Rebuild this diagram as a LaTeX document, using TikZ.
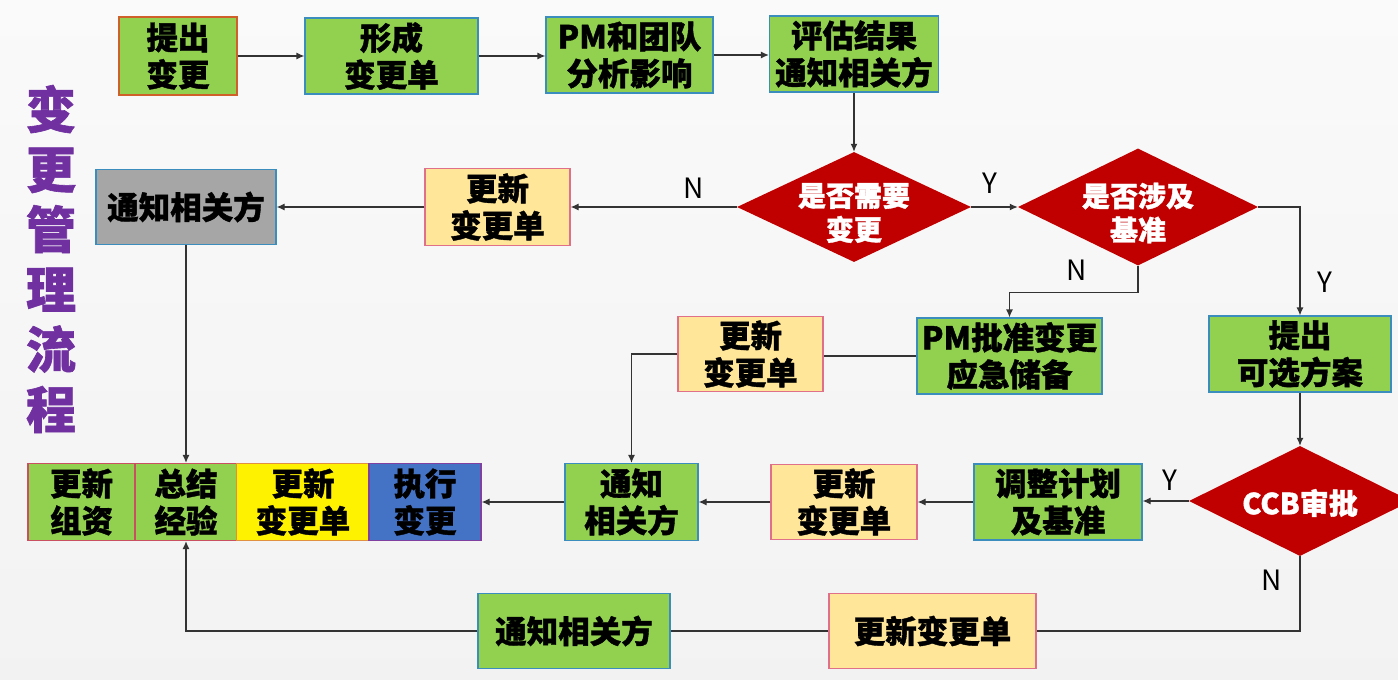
\documentclass[tikz,border=0pt]{standalone}
\usepackage{fontspec}
\setmainfont{Noto Sans CJK SC}[BoldFeatures={FakeBold=1.2}]
\usetikzlibrary{arrows.meta,shapes.geometric}
\definecolor{gfill}{HTML}{92D050}
\definecolor{gborder}{HTML}{3B8DBD}
\definecolor{yfill}{HTML}{FFE699}
\definecolor{yborder}{HTML}{E0708A}
\definecolor{oborder}{HTML}{D0602A}
\definecolor{rborder}{HTML}{C85060}
\definecolor{greyfill}{HTML}{A6A6A6}
\definecolor{dred}{HTML}{C00000}
\definecolor{lc}{HTML}{333333}
\definecolor{ttl}{HTML}{7030A0}
\definecolor{bblue}{HTML}{4472C4}
\definecolor{bpurple}{HTML}{8040A0}
\definecolor{yyborder}{HTML}{E09040}
\newcommand\bxfont{\fontsize{31.5}{37}\selectfont\bfseries}
\newcommand\dmfont{\fontsize{28}{34}\selectfont\bfseries}
\newcommand\lbfont{\fontsize{28}{30}\selectfont}
\begin{document}
\begin{tikzpicture}[x=1pt,y=-1pt,
  box/.style={draw, line width=1.2pt, align=center, inner sep=0pt, font=\bxfont, text=black},
  gbox/.style={box, fill=gfill, draw=gborder},
  ybox/.style={box, fill=yfill, draw=yborder},
  dia/.style={diamond, fill=dred, draw=none, inner sep=0pt},
  dtext/.style={text=white, font=\dmfont, align=center, yshift=-6pt},
  arr/.style={draw=lc, line width=1.2pt, -{Latex[length=8pt,width=7pt]}},
  ln/.style={draw=lc, line width=1.2pt},
  lbl/.style={font=\lbfont, text=black, inner sep=0pt}]
\useasboundingbox (0,0) rectangle (1398,680);
\shade[top color=white!96!gray, bottom color=white!90!gray] (0,0) rectangle (1398,680);

% title
\node[text=ttl, font=\fontsize{50}{60}\selectfont\bfseries, align=center, inner sep=0pt] (title) at (51,259) {变\\更\\管\\理\\流\\程};

% top row
\node[gbox, draw=oborder, minimum width=118, minimum height=78] (n1) at (178,56) {提出\\变更};
\node[gbox, minimum width=173, minimum height=76] (n2) at (391.5,56) {形成\\变更单};
\node[gbox, minimum width=167, minimum height=76] (n3) at (629.5,55) {PM和团队\\分析影响};
\node[gbox, minimum width=169, minimum height=76] (n4) at (854,54) {评估结果\\通知相关方};

% second row
\node[dia, minimum width=234, minimum height=110, label={[dtext]center:是否需要\\变更}] (d1) at (854,207) {};
\node[dia, minimum width=240, minimum height=117, label={[dtext]center:是否涉及\\基准}] (d2) at (1138,207) {};
\node[ybox, minimum width=145, minimum height=77] (y1) at (497.5,207) {更新\\变更单};
\node[box, fill=greyfill, draw=gborder, minimum width=180, minimum height=75] (g1) at (186,207) {通知相关方};

% third row
\node[gbox, minimum width=185, minimum height=76] (pm) at (1009.5,356) {PM批准变更\\应急储备};
\node[ybox, minimum width=145, minimum height=75] (y2) at (750.5,354) {更新\\变更单};
\node[gbox, minimum width=182, minimum height=76] (alt) at (1300,354) {提出\\可选方案};

% fourth row
\node[dia, minimum width=222, minimum height=110, label={[dtext, yshift=4pt, font=\fontsize{29}{34}\selectfont\bfseries]center:CCB审批}] (ccb) at (1300,501) {};
\node[gbox, minimum width=168, minimum height=76] (adj) at (1058,502) {调整计划\\及基准};
\node[ybox, minimum width=146, minimum height=75] (y3) at (844,502) {更新\\变更单};
\node[gbox, minimum width=133, minimum height=77] (t2) at (631.5,502) {通知\\相关方};
\node[box, fill=gfill, draw=rborder, minimum width=107, minimum height=77] (b1) at (81.5,502) {更新\\组资};
\node[box, fill=gfill, draw=rborder, minimum width=101, minimum height=77] (b2) at (186,502) {总结\\经验};
\node[box, fill=yellow, draw=yyborder, minimum width=133, minimum height=77] (b3) at (303,502) {更新\\变更单};
\node[box, fill=bblue, draw=bpurple, minimum width=112, minimum height=77] (b4) at (425,502) {执行\\变更};

% bottom row
\node[ybox, minimum width=207, minimum height=75] (y4) at (932.5,631) {更新变更单};
\node[gbox, minimum width=192, minimum height=75] (t3) at (574,631) {通知相关方};

% labels
\node[lbl] (lN1) at (694,188) {N};
\node[lbl] (lY1) at (990,183) {Y};
\node[lbl] (lN2) at (1077,270) {N};
\node[lbl] (lY2) at (1325,282) {Y};
\node[lbl] (lY3) at (1170,480) {Y};
\node[lbl] (lN3) at (1272,580) {N};

% connectors
\draw[arr] (n1.east) -- (n1.east -| n2.west);
\draw[arr] (n2.east) -- (n2.east -| n3.west);
\draw[arr] (n3.east) -- (n3.east -| n4.west);
\draw[arr] (n4.south) -- (d1.north);
\draw[arr] (d1.east) -- (d2.west);
\draw[arr] (d1.west) -- (y1.east);
\draw[arr] (y1.west) -- (g1.east);
\draw[arr] (g1.south) -- (b2.north);
\draw[arr] (d2.south) -- ([yshift=-27pt]d2.south) -| (pm.north);
\draw[arr] (d2.east) -| (alt.north);
\draw[ln] (pm.west) -- (pm.west -| y2.east);
\draw[arr] (y2.west) -| (t2.north);
\draw[arr] (alt.south) -- (ccb.north);
\draw[arr] (ccb.west) -- (ccb.west -| adj.east);
\draw[arr] (adj.west) -- (y3.east);
\draw[arr] (y3.west) -- (t2.east);
\draw[arr] (t2.west) -- (b4.east);
\draw[ln] (ccb.south) |- (y4.east);
\draw[ln] (y4.west) -- (t3.east);
\draw[arr] (t3.west) -| (b2.south);
\end{tikzpicture}
\end{document}
